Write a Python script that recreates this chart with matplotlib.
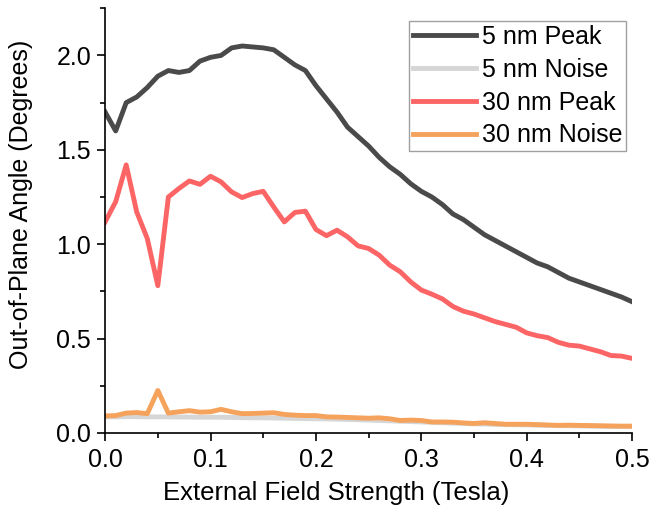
import matplotlib
matplotlib.use('Agg')
import matplotlib.pyplot as plt
from matplotlib.ticker import MultipleLocator

plt.rcParams['font.family'] = ['Liberation Sans', 'DejaVu Sans']

field = [i / 100 for i in range(51)]

peak_5nm = [1.70, 1.60, 1.75, 1.78, 1.83, 1.89, 1.92, 1.91, 1.92, 1.97,
             1.99, 2.00, 2.04, 2.05, 2.045, 2.04, 2.03, 1.99, 1.95, 1.92,
             1.84, 1.77, 1.70, 1.62, 1.57, 1.52, 1.46, 1.41, 1.37, 1.32,
             1.28, 1.25, 1.21, 1.16, 1.13, 1.09, 1.05, 1.02, 0.99, 0.96,
             0.93, 0.90, 0.88, 0.85, 0.82, 0.80, 0.78, 0.76, 0.74, 0.72,
             0.695]
noise_5nm = [0.085, 0.085, 0.086, 0.086, 0.085, 0.085, 0.085, 0.084, 0.084, 0.083,
             0.083, 0.083, 0.082, 0.081, 0.080, 0.080, 0.079, 0.078, 0.077, 0.076,
             0.075, 0.074, 0.073, 0.071, 0.070, 0.068, 0.066, 0.064, 0.062, 0.060,
             0.058, 0.056, 0.054, 0.052, 0.050, 0.048, 0.047, 0.045, 0.044, 0.043,
             0.042, 0.041, 0.040, 0.039, 0.038, 0.037, 0.036, 0.035, 0.034, 0.034,
             0.033]
peak_30nm = [1.118, 1.225, 1.42, 1.17, 1.03, 0.78, 1.25, 1.295, 1.335, 1.317,
             1.36, 1.33, 1.277, 1.247, 1.268, 1.28, 1.197, 1.118, 1.168, 1.175,
             1.078, 1.045, 1.074, 1.039, 0.991, 0.977, 0.942, 0.889, 0.854, 0.80,
             0.757, 0.735, 0.71, 0.67, 0.645, 0.63, 0.61, 0.59, 0.575, 0.56,
             0.53, 0.515, 0.505, 0.48, 0.465, 0.46, 0.445, 0.43, 0.41, 0.407,
             0.395]
noise_30nm = [0.09, 0.092, 0.105, 0.108, 0.102, 0.225, 0.105, 0.112, 0.118, 0.11,
              0.112, 0.125, 0.112, 0.102, 0.103, 0.105, 0.107, 0.098, 0.094, 0.092,
              0.092, 0.085, 0.084, 0.082, 0.080, 0.078, 0.080, 0.075, 0.066, 0.068,
              0.066, 0.058, 0.058, 0.057, 0.053, 0.050, 0.054, 0.050, 0.046, 0.046,
              0.046, 0.044, 0.042, 0.040, 0.041, 0.040, 0.039, 0.038, 0.037, 0.036,
              0.036]

fig = plt.figure(figsize=(6.53, 5.16), dpi=100)
ax = fig.add_axes([0.161, 0.161, 0.807, 0.823])

ax.plot(field, peak_5nm, color='#4a4a4a', lw=3.5, label='5 nm Peak')
ax.plot(field, noise_5nm, color='#d6d6d6', lw=3.5, label='5 nm Noise')
ax.plot(field, peak_30nm, color='#fc6565', lw=3.5, label='30 nm Peak')
ax.plot(field, noise_30nm, color='#f5a25c', lw=3.5, label='30 nm Noise')

ax.set_xlim(0, 0.5)
ax.set_ylim(0, 2.25)
ax.xaxis.set_major_locator(MultipleLocator(0.1))
ax.xaxis.set_minor_locator(MultipleLocator(0.05))
ax.yaxis.set_major_locator(MultipleLocator(0.5))
ax.yaxis.set_minor_locator(MultipleLocator(0.25))
ax.spines['top'].set_visible(False)
ax.spines['right'].set_visible(False)
ax.tick_params(which='major', direction='out', length=6, width=1.2, labelsize=18)
ax.tick_params(axis='x', which='major', pad=5)
ax.tick_params(axis='y', which='major', pad=4)
ax.tick_params(which='minor', direction='out', length=3.5, width=1.2)
for s in ['left', 'bottom']:
    ax.spines[s].set_linewidth(1.2)

ax.set_xlabel('External Field Strength (Tesla)', fontsize=18.5)
ax.set_ylabel('Out-of-Plane Angle (Degrees)', fontsize=18)
ax.xaxis.set_label_coords(0.439, -0.113)
ax.yaxis.set_label_coords(-0.137, 0.539)

leg = ax.legend(loc='upper right', fontsize=18, frameon=True, fancybox=False,
                handlelength=2.5, handletextpad=0.25, labelspacing=0.35,
                borderpad=0.15, borderaxespad=0,
                bbox_to_anchor=(0.9886, 0.9694))
leg.get_frame().set_edgecolor('#888888')
leg.get_frame().set_linewidth(1)

plt.savefig('out.png')
